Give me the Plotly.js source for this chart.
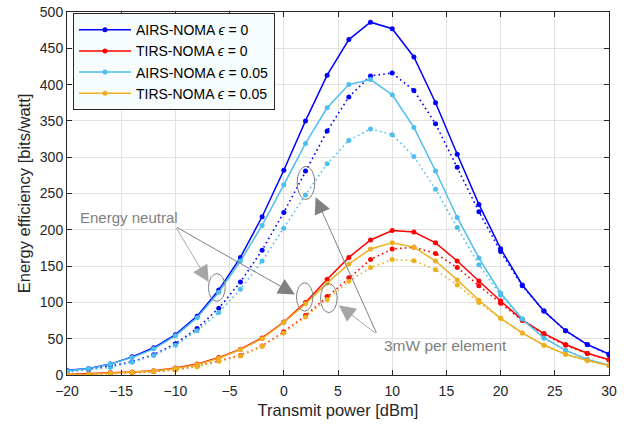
<!DOCTYPE html>
<html>
<head>
<meta charset="utf-8">
<script src="https://cdn.plot.ly/plotly-3.0.1.min.js"></script>
<style>html,body{margin:0;padding:0;background:#fff;}#chart{width:629px;height:427px;}</style>
</head>
<body>
<div id="chart"></div>
<script>
const power = [-20,-18,-16,-14,-12,-10,-8,-6,-4,-2,0,2,4,6,8,10,12,14,16,18,20,22,24,26,28,30];

const airsEps0 = [6.5,9,15,25,37.5,55.6,81,117,162,218,282,350,413,462,486,477,438,375,304,235,174,124,88,61,42,29];
const airsEps0_3mW = [5,7.5,12.4,18.3,28,43,64,92,128,172,224,281,336,383,412,416,392,346,286,225,170,123,88,61,42,28];
const tirsEps0 = [0.8,1.5,3,4.2,6,9.5,15,24,35.5,51,73,100,132,162,186,199,197,182,157,129.5,102,76,57,42,30,21];
const tirsEps0_3mW = [0.5,1,2,3,4.6,7.3,12,19.5,27,40,59.5,82,108,134,159,173.5,176,167.5,148,123,99,75,56,41,29.5,21];
const airsEps05 = [6,8.8,15,24,36,54,79,114,157,206,262,319,368,400,407,386,341,281,217,161,113,77,51,34,21.5,13.5];
const airsEps05_3mW = [4,7,10.5,17.5,27,41,61,86,118,157,202,248,291,323,339,331,301,256,203,152,110,77,51,34,21.5,13];
const tirsEps05 = [0.5,1,2.8,3.7,5.5,8.8,14.3,23,35,50,72.3,98,126.5,153,173.5,182,176,157,131,103,78,58,41,28.6,20,13];
const tirsEps05_3mW = [0.4,0.8,2,3,4.5,7,11.5,19,26,39.5,58,80,104,129,148,159,157.5,145,124,100,78,58,41,28.5,20,13];

const seriesNames = ['AIRS-NOMA <i>ϵ</i> = 0','TIRS-NOMA <i>ϵ</i> = 0','AIRS-NOMA <i>ϵ</i> = 0.05','TIRS-NOMA <i>ϵ</i> = 0.05'];
const colors = ['#0000ff','#ff0000','#4dbeee','#edb120'];
const solidData = [airsEps0, tirsEps0, airsEps05, tirsEps05];
const dotData = [airsEps0_3mW, tirsEps0_3mW, airsEps05_3mW, tirsEps05_3mW];

const traces = [];
for (let i = 0; i < 4; i++) {
  traces.push({x: power, y: dotData[i], type: 'scatter', mode: 'lines+markers', showlegend: false,
    line: {color: colors[i], width: 1.6, dash: '1.6px,3.2px'}, marker: {color: colors[i], size: 5}});
}
for (let i = 0; i < 4; i++) {
  traces.push({x: power, y: solidData[i], type: 'scatter', mode: 'lines+markers', name: seriesNames[i],
    line: {color: colors[i], width: 1.5}, marker: {color: colors[i], size: 5}});
}

const grayDark = '#808080', grayLight = '#a6a6a6';
const ellipses = [
  [-6.95,-5.4,101.5,139.6],
  [1.17,2.68,88,127],
  [1.23,2.86,241.7,287.4],
  [3.39,4.92,86,125.9]
];
const shapes = ellipses.map(e => ({type:'circle', xref:'x', yref:'y', x0:e[0], x1:e[1], y0:e[2], y1:e[3],
  line:{color:grayDark, width:1}}));

function arrow(tx, ty, hx, hy, col) {
  return {x: hx, y: hy, ax: tx, ay: ty, xref:'x', yref:'y', axref:'x', ayref:'y', text:'', showarrow:true,
    arrowhead:2, arrowsize:3.3, arrowwidth:1, arrowcolor:col, standoff:0};
}
const annotations = [
  {x:-14.3, y:217, xref:'x', yref:'y', text:'Energy neutral', showarrow:false, font:{family:'Liberation Sans, Arial', size:15, color:grayDark}},
  {x:14.9, y:40, xref:'x', yref:'y', text:'3mW per element', showarrow:false, font:{family:'Liberation Sans, Arial', size:15.5, color:grayDark}},
  arrow(-10.0, 204.5, -6.93, 128, grayLight),
  arrow(-10.0, 204.5, 1.02, 111, grayDark),
  arrow(8.6, 56, 2.93, 245, grayDark),
  arrow(8.6, 56, 5.08, 96, grayLight)
];

const axisCommon = {showline:true, linecolor:'#262626', linewidth:1, mirror:'ticks', ticks:'inside', ticklen:5,
  tickcolor:'#262626', showgrid:true, gridcolor:'#e1e1e1', gridwidth:1, zeroline:false,
  tickfont:{family:'Liberation Sans, Arial', size:14, color:'#262626'}};

const layout = {
  width:629, height:427,
  margin:{l:67, r:20, t:12, b:52},
  paper_bgcolor:'#ffffff', plot_bgcolor:'#ffffff',
  font:{family:'Liberation Sans, Arial', color:'#262626'},
  xaxis: Object.assign({}, axisCommon, {range:[-20,30], tickvals:[-20,-15,-10,-5,0,5,10,15,20,25,30],
    ticklabelstandoff:3,
    title:{text:'Transmit power [dBm]', font:{size:16.5, color:'#262626'}, standoff:6}}),
  yaxis: Object.assign({}, axisCommon, {range:[0,500], tickvals:[0,50,100,150,200,250,300,350,400,450,500],
    title:{text:'Energy efficiency [bits/watt]', font:{size:16.5, color:'#262626'}, standoff:5}}),
  legend:{x:0.011, y:0.997, xanchor:'left', yanchor:'top', bgcolor:'#f7fcfc', bordercolor:'#262626', borderwidth:1,
    font:{family:'Liberation Sans, Arial', size:14, color:'#000'}, itemwidth:52, traceorder:'normal'},
  shapes: shapes,
  annotations: annotations,
  showlegend:true
};

Plotly.newPlot('chart', traces, layout, {displayModeBar:false, staticPlot:true});
</script>
</body>
</html>
